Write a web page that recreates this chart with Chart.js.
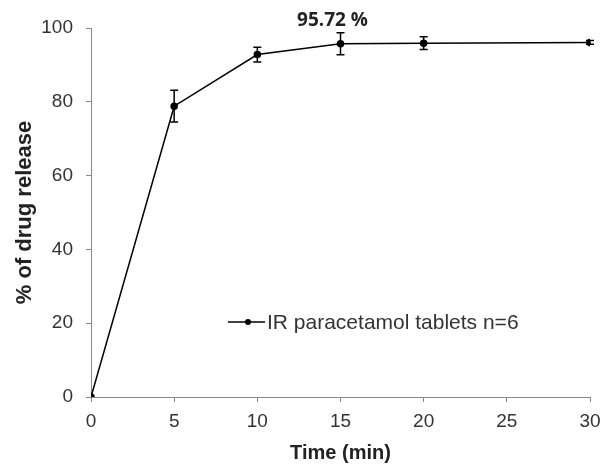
<!DOCTYPE html>
<html>
<head>
<meta charset="utf-8">
<script src="https://cdn.jsdelivr.net/npm/chart.js@4"></script>
<style>
  html, body { margin: 0; padding: 0; background: #fff; }
  #box { width: 605px; height: 469px; }
</style>
</head>
<body>
<div id="box"><canvas id="grafico"></canvas></div>
<script>
// datos
const tiempos = [0, 5, 10, 15, 20, 30];
const liberacion = [0, 78.8, 92.8, 95.72, 95.9, 96.1];
const errores = [0, 4.3, 2.0, 3.0, 1.7, 0.5];
const ticksX = [0, 5, 10, 15, 20, 25, 30];
const ticksY = [0, 20, 40, 60, 80, 100];
const etiquetaSerie = "IR paracetamol tablets n=6";
const etiquetaValor = "95.72 %";
const indiceEtiqueta = 3;

const fuente = "'Liberation Sans', Arial, sans-serif";

/** barras de error, etiqueta y leyenda */
const extras = {
    id: 'extras',
    afterDatasetsDraw(chart) {
        const ctx = chart.ctx;
        const x = chart.scales.x, y = chart.scales.y;
        ctx.save();
        ctx.strokeStyle = '#000';
        ctx.lineWidth = 1.5;
        for (let i = 0; i < tiempos.length; i++) {
            if (!errores[i]) continue;
            const px = x.getPixelForValue(tiempos[i]);
            const top = y.getPixelForValue(liberacion[i] + errores[i]);
            const bot = y.getPixelForValue(liberacion[i] - errores[i]);
            ctx.beginPath();
            ctx.moveTo(px, top); ctx.lineTo(px, bot);
            ctx.moveTo(px - 4, top); ctx.lineTo(px + 4, top);
            ctx.moveTo(px - 4, bot); ctx.lineTo(px + 4, bot);
            ctx.stroke();
        }
        // etiqueta 95.72 %
        ctx.fillStyle = '#222';
        ctx.font = "bold 19px 'Open Sans', 'DejaVu Sans', sans-serif";
        ctx.textAlign = 'center';
        ctx.textBaseline = 'middle';
        ctx.fillText(etiquetaValor, x.getPixelForValue(tiempos[indiceEtiqueta]) - 8, 21);

        // leyenda
        const lx = 228, ly = 322;
        ctx.beginPath();
        ctx.moveTo(lx, ly); ctx.lineTo(lx + 37, ly);
        ctx.stroke();
        ctx.beginPath();
        ctx.arc(lx + 20, ly, 3, 0, Math.PI * 2);
        ctx.fillStyle = '#000';
        ctx.fill();
        ctx.fillStyle = '#333';
        ctx.font = "21px " + fuente;
        ctx.textAlign = 'left';
        ctx.fillText(etiquetaSerie, lx + 39, ly + 1);
        ctx.restore();
    }
};

const ctx = document.getElementById('grafico');
new Chart(ctx, {
    type: 'line',
    data: {
        datasets: [{
            label: etiquetaSerie,
            data: tiempos.map((t, i) => ({ x: t, y: liberacion[i] })),
            borderColor: '#000',
            backgroundColor: '#000',
            borderWidth: 1.5,
            pointRadius: 3,
            pointHoverRadius: 3,
            tension: 0
        }]
    },
    options: {
        responsive: true,
        maintainAspectRatio: false,
        animation: false,
        layout: { padding: { top: 28, right: 15, left: 0, bottom: 0 } },
        plugins: { legend: { display: false }, tooltip: { enabled: false } },
        scales: {
            x: {
                type: 'linear',
                min: 0, max: 30,
                afterBuildTicks: (s) => { s.ticks = ticksX.map(v => ({ value: v })); },
                afterFit: (s) => { s.height = 72; s.paddingLeft = 0; s.paddingRight = 0; },
                grid: { drawOnChartArea: false, color: '#888', tickLength: 5 },
                border: { color: '#888', width: 1 },
                ticks: { color: '#333', font: { family: fuente, size: 19 }, padding: 8 },
                title: {
                    display: true, text: 'Time (min)', color: '#222',
                    font: { family: fuente, size: 20, weight: 'bold' }, padding: { top: 2 }
                }
            },
            y: {
                min: 0, max: 100,
                afterBuildTicks: (s) => { s.ticks = ticksY.map(v => ({ value: v })); },
                afterFit: (s) => { s.width = 91; s.paddingTop = 0; s.paddingBottom = 0; },
                grid: { drawOnChartArea: false, color: '#888', tickLength: 5 },
                border: { color: '#888', width: 1 },
                ticks: { color: '#333', font: { family: fuente, size: 19 }, padding: 13 },
                title: {
                    display: true, text: '% of drug release', color: '#222',
                    font: { family: fuente, size: 22, weight: 'bold' }, padding: { top: 12 }
                }
            }
        }
    },
    plugins: [extras]
});
</script>
</body>
</html>
